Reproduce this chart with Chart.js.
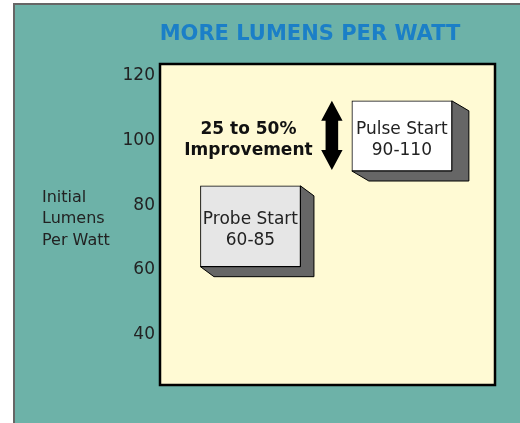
<!DOCTYPE html>
<html>
<head>
<meta charset="utf-8">
<script src="https://cdn.jsdelivr.net/npm/chart.js@4/dist/chart.umd.min.js"></script>
<style>
html,body{margin:0;padding:0;background:#fff}
#wrap{width:520px;height:423px}
</style>
</head>
<body>
<div id="wrap"><canvas id="c" width="520" height="423"></canvas></div>
<script>
/* ═══ DATA ═══ */
const TITLE='MORE LUMENS PER WATT';
const Y_TITLE=['Initial','Lumens','Per Watt'];
const LAMPS=['Probe Start','Pulse Start'];
const RANGE_TXT=['60-85','90-110'];
const LAMP_X=[27,72.2];
const LOW=[61,90.6];
const HIGH=[86,112.3];
const Y_TICKS=[40,60,80,100,120];
const NOTE=['25 to 50%','Improvement'];

/* ═══ STYLE ═══ */
const FONT='"DejaVu Sans", Verdana, sans-serif';
const TEAL='#6db2a8', PAPER='#fffad4';
const FRONT=['#e6e6e6','#ffffff'];
const DEPTH_X=[13.5,17], DEPTH_Y=10;

const frame={
  id:'frame',
  beforeDraw(ch){
    const c=ch.ctx, a=ch.chartArea;
    c.save();
    c.fillStyle='#fff'; c.fillRect(0,0,ch.width,ch.height);
    c.fillStyle=TEAL; c.fillRect(14,4,ch.width-14,ch.height-4);
    c.strokeStyle='#666'; c.lineWidth=2;
    c.beginPath(); c.moveTo(14,ch.height); c.lineTo(14,4); c.lineTo(ch.width,4); c.stroke();
    c.fillStyle=PAPER; c.fillRect(a.left,a.top,a.right-a.left,a.bottom-a.top);
    c.strokeStyle='#000'; c.lineWidth=2.5;
    c.strokeRect(a.left,a.top,a.right-a.left,a.bottom-a.top);
    // title
    c.fillStyle='#1b7fc7'; c.font='bold 21px '+FONT;
    c.textAlign='center'; c.textBaseline='alphabetic';
    c.fillText(TITLE,310,39.5);
    // y title, horizontal
    c.fillStyle='#222'; c.font='16px '+FONT; c.textAlign='left';
    Y_TITLE.forEach((t,i)=>c.fillText(t,42,201.5+i*21.7));
    c.restore();
  },
  beforeDatasetsDraw(ch){
    const c=ch.ctx, meta=ch.getDatasetMeta(0);
    c.save();
    meta.data.forEach((b,i)=>{
      const p=b.getProps(['x','y','base','width'],true);
      const l=p.x-p.width/2, r=p.x+p.width/2;
      const t=Math.min(p.y,p.base), bt=Math.max(p.y,p.base);
      const dx=DEPTH_X[i], dy=DEPTH_Y;
      c.beginPath();
      c.moveTo(r,t); c.lineTo(r+dx,t+dy); c.lineTo(r+dx,bt+dy);
      c.lineTo(l+dx,bt+dy); c.lineTo(l,bt); c.lineTo(r,bt); c.closePath();
      c.fillStyle='#666'; c.fill();
      c.strokeStyle='#000'; c.lineWidth=1; c.stroke();
    });
    c.restore();
  },
  afterDatasetsDraw(ch){
    const c=ch.ctx, meta=ch.getDatasetMeta(0);
    c.save();
    c.textAlign='center'; c.textBaseline='alphabetic';
    c.fillStyle='#222'; c.font='17px '+FONT;
    meta.data.forEach((b,i)=>{
      const p=b.getProps(['x','y','base'],true);
      const cy=(p.y+p.base)/2;
      c.fillText(LAMPS[i],p.x,cy-2.3);
      c.fillText(RANGE_TXT[i],p.x,cy+19);
    });
    // improvement arrow beside the pulse box
    const pb=meta.data[1].getProps(['x','y','base','width'],true);
    const pr=meta.data[0].getProps(['x'],true);
    const ax=pb.x-pb.width/2-20, top=Math.min(pb.y,pb.base), bot=Math.max(pb.y,pb.base)-1;
    const hw=10.7, sw=6.3, hh=20;
    c.fillStyle='#000';
    c.beginPath();
    c.moveTo(ax,top); c.lineTo(ax+hw,top+hh); c.lineTo(ax+sw,top+hh);
    c.lineTo(ax+sw,bot-hh); c.lineTo(ax+hw,bot-hh); c.lineTo(ax,bot);
    c.lineTo(ax-hw,bot-hh); c.lineTo(ax-sw,bot-hh); c.lineTo(ax-sw,top+hh);
    c.lineTo(ax-hw,top+hh); c.closePath(); c.fill();
    const cy=(pb.y+pb.base)/2;
    c.font='bold 17px '+FONT; c.fillStyle='#111';
    c.fillText(NOTE[0],pr.x-2,cy-1.5);
    c.fillText(NOTE[1],pr.x-2,cy+18.7);
    c.restore();
  }
};

new Chart(document.getElementById('c'),{
  type:'bar',
  data:{
    datasets:[{
      data:LAMPS.map((n,i)=>({x:LAMP_X[i],y:[LOW[i],HIGH[i]]})),
      backgroundColor:FRONT,
      borderColor:'#000',
      borderWidth:1,
      borderSkipped:false,
      barThickness:100
    }]
  },
  options:{
    responsive:false,
    devicePixelRatio:1,
    animation:false,
    layout:{padding:{top:64,bottom:38,right:25,left:0}},
    plugins:{legend:{display:false},tooltip:{enabled:false},title:{display:false}},
    scales:{
      x:{type:'linear',min:0,max:100,offset:false,display:false},
      y:{
        min:24.4,max:123.7,
        afterBuildTicks:s=>{s.ticks=Y_TICKS.map(v=>({value:v}))},
        afterFit:s=>{s.width=160},
        grid:{display:false,drawTicks:false,tickLength:0},
        border:{display:false},
        ticks:{padding:5,color:'#222',font:{family:FONT,size:17}}
      }
    }
  },
  plugins:[frame]
});
</script>
</body>
</html>
